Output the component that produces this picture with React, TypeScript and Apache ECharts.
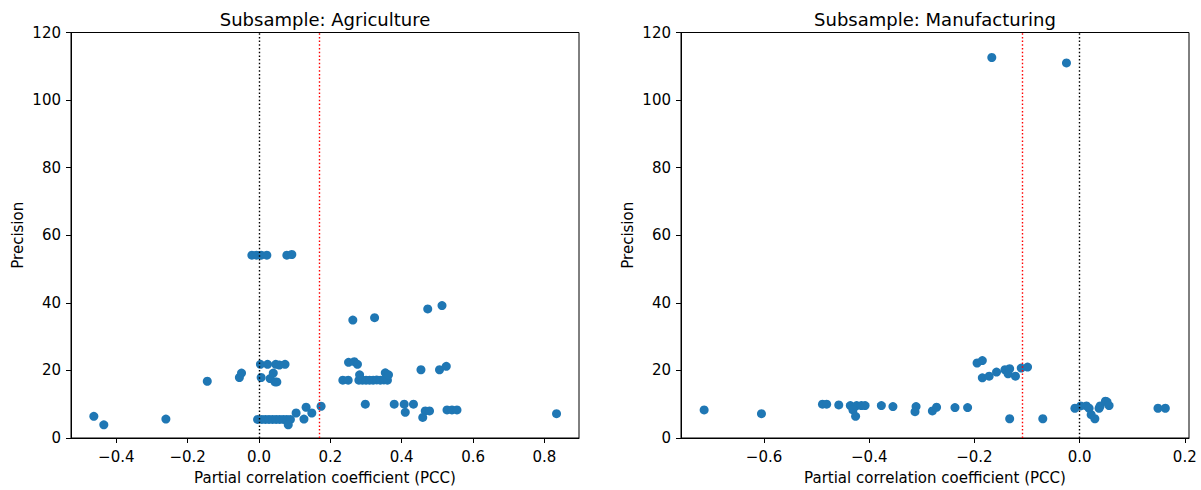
import React, { useEffect, useRef } from "react";
import * as echarts from "echarts";

// ---- Data: Subsample Agriculture ----
const agriX = [
  -0.463, -0.435, -0.261, -0.145, -0.055, -0.049,
  0.004, 0.024, 0.047, 0.057, 0.073,
  0.006, 0.031, 0.04, 0.045, 0.05,
  -0.02, -0.007, 0.006, 0.022, 0.078, 0.092,
  -0.004, 0.008, 0.018, 0.028, 0.038, 0.048, 0.058, 0.068, 0.078, 0.088, 0.082,
  0.104, 0.126, 0.132, 0.148, 0.174,
  0.263, 0.324, 0.473, 0.513,
  0.251, 0.267, 0.276,
  0.235, 0.25, 0.28, 0.29, 0.3, 0.31, 0.32, 0.33, 0.34, 0.35, 0.36,
  0.282, 0.354, 0.363,
  0.454, 0.506, 0.525,
  0.298, 0.379, 0.407, 0.433,
  0.41, 0.466, 0.478, 0.459,
  0.527, 0.541, 0.555,
  0.834,
];
const agriY = [
  6.4, 3.9, 5.6, 16.8, 17.9, 19.2,
  21.8, 21.8, 21.8, 21.6, 21.8,
  17.9, 17.6, 19.2, 16.6, 16.6,
  54.1, 54.1, 54.1, 54.1, 54.1, 54.3,
  5.5, 5.5, 5.5, 5.5, 5.5, 5.5, 5.5, 5.5, 5.5, 5.5, 3.9,
  7.4, 5.6, 9.1, 7.4, 9.4,
  34.9, 35.6, 38.2, 39.2,
  22.4, 22.6, 21.8,
  17.1, 17.1, 17.1, 17.1, 17.1, 17.1, 17.1, 17.2, 17.1, 17.2, 17.1,
  18.7, 19.3, 18.7,
  20.2, 20.2, 21.2,
  10.0, 10.0, 10.0, 10.0,
  7.6, 8.0, 8.0, 6.1,
  8.3, 8.3, 8.3,
  7.2,
];

// ---- Data: Subsample Manufacturing ----
const manuX = [
  -0.714, -0.605,
  -0.489, -0.481, -0.458,
  -0.436, -0.424, -0.415, -0.408, -0.431, -0.426,
  -0.377, -0.355, -0.311, -0.313, -0.28, -0.272, -0.237, -0.213,
  -0.133, -0.07,
  -0.195, -0.185, -0.185, -0.172, -0.158, -0.142, -0.133, -0.136, -0.122, -0.111, -0.099,
  -0.009, 0.002, 0.013, 0.018, 0.022, 0.029, 0.037, 0.039, 0.049, 0.052, 0.056,
  0.149, 0.163,
  -0.167, -0.025,
];
const manuY = [
  8.3, 7.2,
  10.0, 10.0, 9.8,
  9.6, 9.6, 9.6, 9.6, 8.3, 6.4,
  9.6, 9.3, 9.3, 7.8, 8.0, 9.1, 9.0, 9.0,
  5.7, 5.7,
  22.2, 22.9, 17.8, 18.3, 19.5, 20.2, 20.5, 19.0, 18.3, 20.7, 21.0,
  8.8, 9.5, 9.5, 8.8, 6.9, 5.7, 8.8, 9.5, 10.9, 10.7, 9.6,
  8.8, 8.8,
  112.6, 111.0,
];

const yTicks = [0, 20, 40, 60, 80, 100, 120];
const agriXTicks = [-0.4, -0.2, 0.0, 0.2, 0.4, 0.6, 0.8];
const manuXTicks = [-0.6, -0.4, -0.2, 0.0, 0.2];
const agriRefLine = 0.168;
const manuRefLine = -0.114;
const titles = ["Subsample: Agriculture", "Subsample: Manufacturing"];
const xName = "Partial correlation coefficient (PCC)";
const yName = "Precision";

const FONT = "DejaVu Sans, sans-serif";
const TICK_FS = 15;
const TITLE_FS = 18;

const fmtX = (v: number) => {
  const s = Math.abs(v).toFixed(1);
  return v < -1e-9 ? "\u2212" + s : s;
};

function makeXAxis(gridIndex: number, min: number, max: number, ticks: number[]) {
  return {
    type: "value",
    gridIndex,
    min,
    max,
    splitLine: { show: false },
    axisLine: { show: true, onZero: false, lineStyle: { color: "#000", width: 1 } },
    axisTick: { show: true, length: 5, customValues: ticks, lineStyle: { color: "#000", width: 1 } },
    axisLabel: {
      customValues: ticks,
      formatter: (v: number) => fmtX(v),
      color: "#000",
      fontSize: TICK_FS,
      fontFamily: FONT,
      margin: 11,
    },
    name: xName,
    nameLocation: "middle",
    nameGap: 32,
    nameTextStyle: { color: "#000", fontSize: TICK_FS, fontFamily: FONT },
  };
}

function makeYAxis(gridIndex: number) {
  return {
    type: "value",
    gridIndex,
    min: 0,
    max: 120,
    interval: 20,
    splitLine: { show: false },
    axisLine: { show: true, onZero: false, lineStyle: { color: "#000", width: 1 } },
    axisTick: { show: true, length: 5, lineStyle: { color: "#000", width: 1 } },
    axisLabel: {
      formatter: (v: number) => String(Math.round(v)),
      color: "#000",
      fontSize: TICK_FS,
      fontFamily: FONT,
      margin: 10,
    },
    name: yName,
    nameLocation: "middle",
    nameGap: 46,
    nameTextStyle: { color: "#000", fontSize: TICK_FS, fontFamily: FONT },
  };
}

function makeSeries(idx: number, xs: number[], ys: number[], ref: number) {
  return {
    type: "scatter",
    xAxisIndex: idx,
    yAxisIndex: idx,
    data: xs.map((x, i) => [x, ys[i]]),
    symbol: "circle",
    symbolSize: 9,
    itemStyle: { color: "#1f77b4", opacity: 1 },
    markLine: {
      silent: true,
      symbol: "none",
      label: { show: false },
      z: 5,
      data: [
        { xAxis: 0, lineStyle: { color: "#000000", type: [1.5, 2.2], width: 1.4 } },
        { xAxis: ref, lineStyle: { color: "#ff0000", type: [1.5, 2.2], width: 1.4 } },
      ],
    },
  };
}

export default function App() {
  const ref = useRef<HTMLDivElement>(null);
  useEffect(() => {
    if (!ref.current) return;
    const chart = echarts.init(ref.current, undefined, { renderer: "svg" });
    const gridTop = 32.5;
    const gridH = 411;
    const grids = [
      { left: 71, top: gridTop, width: 508, height: gridH },
      { left: 681, top: gridTop, width: 508, height: gridH },
    ].map((g) => ({ ...g, show: true, borderColor: "#000", borderWidth: 1, backgroundColor: "transparent", containLabel: false }));
    chart.setOption({
      animation: false,
      backgroundColor: "#fff",
      grid: grids,
      xAxis: [
        makeXAxis(0, -0.527, 0.897, agriXTicks),
        makeXAxis(1, -0.758, 0.208, manuXTicks),
      ],
      yAxis: [makeYAxis(0), makeYAxis(1)],
      series: [
        makeSeries(0, agriX, agriY, agriRefLine),
        makeSeries(1, manuX, manuY, manuRefLine),
      ],
      graphic: [
        {
          type: "text",
          x: 325,
          y: 19,
          style: { text: titles[0], align: "center", verticalAlign: "middle", fontSize: TITLE_FS, fontFamily: FONT, fill: "#000" },
        },
        {
          type: "text",
          x: 935,
          y: 19,
          style: { text: titles[1], align: "center", verticalAlign: "middle", fontSize: TITLE_FS, fontFamily: FONT, fill: "#000" },
        },
      ],
    });
    return () => chart.dispose();
  }, []);
  return (
    <div
      ref={ref}
      style={{ position: "absolute", left: 0, top: 0, width: 1201, height: 490 }}
    />
  );
}
